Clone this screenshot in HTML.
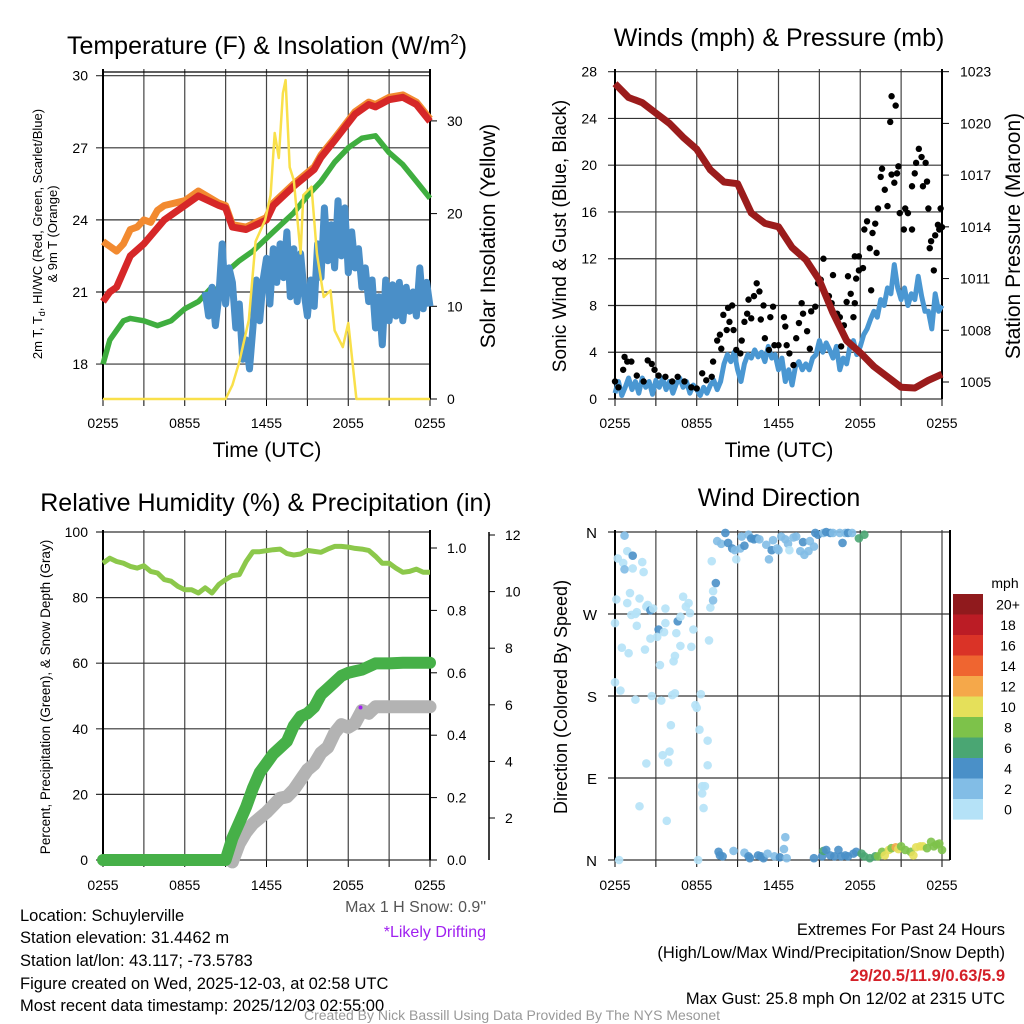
<!DOCTYPE html>
<html><head><meta charset="utf-8"><style>
html,body{margin:0;padding:0;background:#fff;}
svg{display:block;font-family:"Liberation Sans",sans-serif;}
</style></head><body>
<svg id="chart" width="1024" height="1024" viewBox="0 0 1024 1024" xmlns="http://www.w3.org/2000/svg">
<rect x="0" y="0" width="1024" height="1024" fill="#fff"/>
<g id="p1"></g>
<g id="p2"></g>
<g id="p3"></g>
<g id="p4"></g>

<text x="267" y="54" font-size="25" text-anchor="middle">Temperature (F) &amp; Insolation (W/m<tspan font-size="15" dy="-10">2</tspan><tspan dy="10">)</tspan></text>
<text x="779" y="46" font-size="25" text-anchor="middle">Winds (mph) &amp; Pressure (mb)</text>
<text x="266" y="511" font-size="25" text-anchor="middle">Relative Humidity (%) &amp; Precipitation (in)</text>
<text x="779" y="506" font-size="25" text-anchor="middle">Wind Direction</text>

<text transform="translate(42,234) rotate(-90)" font-size="13" text-anchor="middle">2m T, T<tspan font-size="9" dy="3">d</tspan><tspan dy="-3">, HI/WC (Red, Green, Scarlet/Blue)</tspan></text>
<text transform="translate(57,234) rotate(-90)" font-size="13" text-anchor="middle">&amp; 9m T (Orange)</text>
<text transform="translate(495,236) rotate(-90)" font-size="21" text-anchor="middle">Solar Insolation (Yellow)</text>
<text transform="translate(566,236) rotate(-90)" font-size="19" text-anchor="middle">Sonic Wind &amp; Gust (Blue, Black)</text>
<text transform="translate(1020,236) rotate(-90)" font-size="21" text-anchor="middle">Station Pressure (Maroon)</text>
<text transform="translate(50,697) rotate(-90)" font-size="13.5" text-anchor="middle">Percent, Precipitation (Green), &amp; Snow Depth (Gray)</text>
<text transform="translate(567,697) rotate(-90)" font-size="18" text-anchor="middle">Direction (Colored By Speed)</text>

<text x="267" y="457" font-size="21" text-anchor="middle">Time (UTC)</text>
<text x="779" y="457" font-size="21" text-anchor="middle">Time (UTC)</text>

<text x="1005" y="588" font-size="14" text-anchor="middle">mph</text>

<g font-size="16.5">
<text x="20" y="921">Location: Schuylerville</text>
<text x="20" y="943">Station elevation: 31.4462 m</text>
<text x="20" y="966">Station lat/lon: 43.117; -73.5783</text>
<text x="20" y="989">Figure created on Wed, 2025-12-03, at 02:58 UTC</text>
<text x="20" y="1011">Most recent data timestamp: 2025/12/03 02:55:00</text>
</g>
<text x="486" y="912" font-size="16" text-anchor="end" fill="#555">Max 1 H Snow: 0.9"</text>
<text x="486" y="937" font-size="16" text-anchor="end" fill="#a020f0">*Likely Drifting</text>
<g font-size="16.5" text-anchor="end">
<text x="1005" y="935">Extremes For Past 24 Hours</text>
<text x="1005" y="958">(High/Low/Max Wind/Precipitation/Snow Depth)</text>
<text x="1005" y="981" fill="#d42028" font-weight="bold">29/20.5/11.9/0.63/5.9</text>
<text x="1005" y="1004">Max Gust: 25.8 mph On 12/02 at 2315 UTC</text>
</g>
<text x="512" y="1020" font-size="14" text-anchor="middle" fill="#999">Created By Nick Bassill Using Data Provided By The NYS Mesonet</text>
</svg>
<script>
// ---------- DATA ----------
const tHalf = [0,0.5,1,1.5,2,2.5,3,3.5,4,4.5,5,5.5,6,6.5,7,7.5,8,8.5,9,9.5,10,10.5,11,11.5,12,12.5,13,13.5,14,14.5,15,15.5,16,16.5,17,17.5,18,18.5,19,19.5,20,20.5,21,21.5,22,22.5,23,23.5,24];
const tQuarter = [0,0.25,0.5,0.75,1,1.25,1.5,1.75,2,2.25,2.5,2.75,3,3.25,3.5,3.75,4,4.25,4.5,4.75,5,5.25,5.5,5.75,6,6.25,6.5,6.75,7,7.25,7.5,7.75,8,8.25,8.5,8.75,9,9.25,9.5,9.75,10,10.25,10.5,10.75,11,11.25,11.5,11.75,12,12.25,12.5,12.75,13,13.25,13.5,13.75,14,14.25,14.5,14.75,15,15.25,15.5,15.75,16,16.25,16.5,16.75,17,17.25,17.5,17.75,18,18.25,18.5,18.75,19,19.25,19.5,19.75,20,20.25,20.5,20.75,21,21.25,21.5,21.75,22,22.25,22.5,22.75,23,23.25,23.5,23.75,24];
const xTickLabels = ["0255","0855","1455","2055","0255"];
const xTickHours = [0,6,12,18,24];

// Panel 1
const tempT = [0,0.5,1,2,3,4.5,6,7,8.5,9,9.5,10.5,12,12.5,14,15.5,16,17,18.5,19.5,20,21,22,23,24];
const tempRed = [20.6,21,21.2,22.5,23,24,24.6,25,24.6,24.5,23.7,23.6,24,24.6,25.4,26.1,26.6,27.3,28.4,28.8,28.7,29,29.1,28.8,28.1];
const tempOrangeT = [0,0.5,1,1.5,2,2.5,3,3.5,4,4.5,6,7,8.5,9,9.5,10.5,12,12.5,14,15.5,16,17,18.5,19.5,20,21,22,23,24];
const tempOrange = [23.1,22.9,22.7,23.0,23.6,23.7,24,23.9,24.4,24.6,24.8,25.2,24.7,24.6,23.8,23.7,24.1,24.7,25.5,26.2,26.7,27.4,28.5,28.9,28.8,29.1,29.2,28.9,28.2];
const dewT = [0,0.5,1,1.5,2,3,4,5,6,7,8,8.5,9,10,11,12.5,14,15,16,17,18,19,20,21,22,23,24];
const dewGreen = [18,19,19.4,19.8,19.9,19.8,19.6,19.8,20.3,20.6,21.2,21.0,21.8,22.3,22.7,23.5,24.3,25,25.6,26.4,27,27.4,27.5,26.8,26.3,25.6,24.9];
const wcT = [7.5,7.75,8,8.25,8.5,8.75,9,9.25,9.5,9.75,10,10.25,10.5,10.75,11,11.25,11.5,11.75,12,12.25,12.5,12.75,13,13.25,13.5,13.75,14,14.25,14.5,14.75,15,15.25,15.5,15.75,16,16.25,16.5,16.75,17,17.25,17.5,17.75,18,18.25,18.5,18.75,19,19.25,19.5,19.75,20,20.25,20.5,20.75,21,21.25,21.5,21.75,22,22.25,22.5,22.75,23,23.25,23.5,23.75,24];
const wcBlue = [21.0,20.0,21.2,19.6,20.8,23.0,20.5,22.0,21.4,19.5,20.5,18.2,19.0,17.8,19.5,21.5,19.8,21.5,22.4,20.5,22.8,21.4,23.0,21.6,23.5,20.8,22.8,20.6,22.6,21.0,20.0,21.5,20.4,23.0,21.6,24.5,22.3,23.8,22.0,24.8,22.5,24.5,21.8,23.5,22.0,22.8,21.2,22.0,20.6,21.5,19.5,20.8,18.8,21.5,19.8,21.3,20.0,21.4,19.8,21.2,20.2,21.0,20.0,22.0,20.3,21.4,20.4];
const solarT = [0,9,9.5,10,10.7,11.2,11.9,12.3,12.6,12.9,13.2,13.4,13.7,14,14.5,14.7,15.3,15.7,16.2,16.7,17,17.6,18,18.6,24];
const solarVal = [0,0,1.5,4,8.5,17,19.3,22,28.7,26,33,34.4,25,23.6,15.7,22,22.9,15.7,11,11.7,7.4,5.6,8.2,0,0];

// Panel 2
const windBlue = [0.5,1.5,0.3,1.0,1.8,0.8,1.5,0.5,1.8,1.0,1.5,0.4,1.6,1.0,1.8,0.8,1.5,0.5,1.3,1.8,1.0,1.5,0.5,1.2,0.8,0.3,1.0,0.5,1.2,1.6,0.8,1.5,3.0,3.8,3.2,4.0,2.5,1.5,3.0,3.8,3.5,4.2,3.6,4.0,3.2,4.5,3.5,3.8,2.5,3.5,1.5,2.5,1.2,2.8,3.2,2.5,3.0,2.5,3.5,3.8,5.0,4.0,4.8,4.2,3.5,4.5,2.5,3.5,3.0,4.5,5.0,3.8,4.5,5.5,6.0,6.8,7.5,7.0,8.5,8.0,9.5,9.0,11.5,9.5,8.5,9.5,8.0,9.0,8.5,10.5,8.8,7.5,7.5,6.0,9.0,7.5,8.0];
const presT = [0,1,2,3,4,5,6,7,8,9,10,11,12,13,14,15,16,17,18,19,20,21,22,23,24];
const presVal = [1022.3,1021.5,1021.2,1020.6,1020.0,1019.2,1018.5,1017.3,1016.6,1016.5,1014.8,1014.2,1014.0,1012.8,1012.1,1010.9,1009.0,1007.4,1006.7,1005.9,1005.3,1004.7,1004.65,1005.1,1005.45];
const gustT = [0,0.25,0.7,0.9,1.2,0.6,1.6,2.1,2.4,2.7,2.9,3.2,3.7,4.2,4.6,5.1,5.6,6.0,6.4,6.7,7.1,7.2,7.5,7.7,7.8,7.95,8.2,8.3,8.6,8.4,8.7,8.9,9.2,9.3,9.5,9.7,9.8,10.0,10.2,10.4,10.6,10.7,10.9,11.0,11.3,11.4,11.6,11.7,12.0,12.4,12.5,12.6,12.8,13.1,13.3,13.5,13.7,13.8,14.1,14.3,14.4,14.7,14.9,15.1,15.3,15.5,15.7,15.9,16.0,16.3,16.5,16.6,16.8,17.0,17.1,17.3,17.5,17.6,17.7,17.9,17.6,17.9,18.2,18.3,18.5,18.7,18.8,18.9,19.1,19.2,19.3,19.5,19.6,19.8,20.0,20.2,20.3,20.6,20.3,20.5,20.7,20.8,20.9,21.2,21.3,21.5,21.8,21.8,22.0,22.1,22.3,22.5,22.6,22.8,22.9,23.0,23.1,23.2,23.4,23.5,23.7,23.8,23.9,24.0];
const gustVal = [1.5,1.0,3.6,3.2,3.2,2.5,2.0,1.5,3.3,3.0,2.5,2.0,1.9,1.5,1.9,1.5,1.0,0.9,2.2,1.6,1.9,3.2,5.0,5.5,4.3,7.2,5.9,7.8,8.0,6.6,5.9,4.2,3.9,5.0,6.6,7.3,8.5,6.9,8.8,9.9,9.2,6.8,8.0,5.2,4.2,7.0,7.9,4.6,4.6,7.0,6.2,4.6,3.9,2.9,5.2,6.5,8.2,7.3,5.8,4.3,7.5,7.9,9.9,10.2,12.0,8.9,8.8,8.2,10.6,7.3,7.0,4.5,6.3,8.3,10.5,9.0,7.0,8.2,10.3,11.0,12.2,12.2,11.2,14.5,15.2,12.9,9.3,14.2,15.0,12.5,16.3,19.0,19.7,17.9,16.5,23.7,25.9,25.1,19.2,18.5,19.3,19.9,15.9,14.5,16.3,15.9,14.5,18.2,19.3,20.2,21.4,20.7,18.2,20.2,18.6,16.3,12.9,13.5,11.0,14.0,14.9,14.5,16.3,14.7];

// Panel 3
const rhVal = [90.5,92,91,90.5,89.5,89,89.7,88,87.5,85.5,85,83.4,82.4,82.4,81.4,83,81.4,84,85.5,86.7,87,91,94,94,94.3,94.6,94.8,93.4,93,93.3,94.4,94.1,93.8,94.8,95.6,95.6,95.4,95,94.8,94.4,92.6,90.5,90.5,89,87.7,88,88.7,87.7,87.7];
const precipT = [0,9,9.5,10,10.5,11,11.5,12,12.5,13,13.5,14,14.5,15,15.5,16,16.5,17,17.5,18,18.5,19,19.5,20,21,22,23,24];
const precipVal = [0,0,0.07,0.12,0.17,0.23,0.28,0.31,0.34,0.36,0.38,0.43,0.46,0.47,0.49,0.53,0.55,0.57,0.59,0.60,0.605,0.61,0.62,0.63,0.63,0.632,0.632,0.632];
const snowT = [9.5,10,10.5,11,11.5,12,12.5,13,13.5,14,14.5,15,15.5,16,16.5,17,17.5,18,18.5,19,19.5,20,21,22,23,24];
const snowVal = [0.45,1.1,1.5,1.8,2.0,2.2,2.45,2.7,2.75,3.0,3.35,3.7,3.9,4.3,4.5,5.0,5.3,5.2,5.35,5.8,5.7,5.93,5.93,5.93,5.93,5.93];
const driftT = [18.9];
const driftPct = [46.5];

// Panel 4
const dirT = [0.7,0.9,0.2,0.6,1.3,0.7,1.3,2.0,2.1,0.1,0.9,1.1,1.8,1.6,1.2,1.5,2.3,2.4,2.6,2.8,3.7,0,1.6,3.2,3.7,3.6,3.1,2.6,4.6,4.5,4.8,5.0,5.2,5.4,5.5,4.8,5.75,5.6,0.5,1.0,2.2,3.3,4.3,4.4,0,0.4,1.5,2.7,3.4,4.2,4.4,5.9,6.0,6.3,6.2,6.8,4.1,3.5,4.0,3.9,2.3,6.8,6.4,6.6,6.4,6.5,1.8,3.8,0.3,6.1,7.0,6.9,7.2,7.2,7.4,7.1,
7.5,7.8,8.1,8.3,8.6,8.8,8.9,9.2,9.3,9.5,9.8,10.0,10.2,10.4,10.6,11.1,11.3,11.5,11.6,11.9,12.0,12.2,12.5,12.7,12.8,13.1,13.3,13.6,13.8,13.9,14.2,14.3,14.6,14.7,14.9,15.3,15.5,15.8,16.0,16.5,16.7,16.9,17.1,17.4,17.9,18.3,
7.6,7.7,7.9,8.7,9.5,9.8,9.9,10.5,10.7,10.9,11.2,11.7,12.1,12.4,12.5,12.6,14.6,15.2,15.3,15.5,15.8,16.1,16.4,16.6,16.9,17.1,17.5,17.7,18.1,18.3,18.7,19.1,19.3,19.6,19.8,20.1,20.3,20.6,20.8,21.0,21.3,21.7,21.9,22.1,22.4,22.6,22.9,23.2,23.4,23.6,23.8,24];
const dirDeg = [356,339,331,326,334,319,320,327,316,286,282,293,287,272,269,270,278,280,274,276,276,260,257,253,260,250,245,243,262,249,235,289,278,282,271,267,253,234,233,227,231,214,218,224,195,186,176,180,175,181,183,170,167,182,143,131,148,115,119,107,106,104,81,81,73,57,59,43,0,0,277,241,285,295,304,328,
350,347,359,348,342,340,330,342,355,345,357,353,352,353,352,346,330,340,351,342,340,355,352,347,340,354,355,339,349,335,339,350,344,359,357,359,360,359,359,359,348,359,359,359,353,357,
9,5,4,10,8,4,2,5,4,2,7,4,3,12,25,2,2,4,10,11,5,4,11,4,5,4,7,9,7,4,2,4,4,9,5,11,13,14,12,15,11,9,5,14,15,15,13,20,15,17,18,11];
const dirSpeed = [2.5,0.5,0.5,0.5,4.5,2.5,0.5,0.5,0.5,0.5,0.5,0.5,0.5,0.5,0.5,0.5,0.5,0.5,4.5,0.5,0.5,0.5,0.5,4.5,0.5,0.5,0.5,0.5,4.5,0.5,0.5,0.5,0.5,0.5,0.5,0.5,0.5,0.5,0.5,0.5,0.5,0.5,0.5,0.5,0.5,0.5,0.5,0.5,0.5,0.5,0.5,0.5,0.5,0.5,0.5,0.5,0.5,0.5,0.5,0.5,0.5,0.5,0.5,0.5,0.5,0.5,0.5,0.5,0.5,0.5,0.5,0.5,2.5,0.5,4.5,0.5,
2.5,2.5,4.5,4.5,4.5,2.5,0.5,2.5,2.5,4.5,2.5,4.5,4.5,4.5,2.5,2.5,2.5,4.5,2.5,2.5,2.5,2.5,2.5,2.5,0.5,2.5,2.5,2.5,4.5,2.5,2.5,2.5,2.5,4.5,4.5,2.5,4.5,4.5,2.5,2.5,4.5,2.5,4.5,2.5,7,7,
4.5,4.5,4.5,2.5,2.5,4.5,4.5,4.5,4.5,4.5,2.5,2.5,4.5,2.5,2.5,2.5,4.5,4.5,7,4.5,4.5,4.5,4.5,4.5,4.5,4.5,4.5,4.5,7,7,7,7,9,9,11,11,9,13,11,9,9,9,11,11,11,11,9,9,9,9,9,9];
const cbLabels = ["20+","18","16","14","12","10","8","6","4","2","0"];
const cbColors = ["#901a1d","#bb1c25","#da3327","#ef6530","#f5a84a","#e5e05a","#7dc24a","#4aa673","#4a90c8","#82bde6","#b5e2f7"];
const dirLabels = ["N","W","S","E","N"];
const dirTicks = [360,270,180,90,0];

// ---------- HELPERS ----------
const NS = "http://www.w3.org/2000/svg";
function mk(tag, attrs, parent){ const e=document.createElementNS(NS,tag); for(const k in attrs) e.setAttribute(k,attrs[k]); parent.appendChild(e); return e; }
function pts(ts, vs, fx, fy){ return ts.map((t,i)=>fx(t).toFixed(1)+","+fy(vs[i]).toFixed(1)).join(" "); }
function line(g, x1,y1,x2,y2, stroke, w){ return mk("line",{x1,y1,x2,y2,stroke,"stroke-width":w},g); }
function txt(g, x,y,s,size,anchor){ const t=mk("text",{x,y,"font-size":size,"text-anchor":anchor||"middle"},g); t.textContent=s; return t; }

const L=103, R=430, L2=615, R2=942;
const XA = h => L + h*(R-L)/24;
const XB = h => L2 + h*(R2-L2)/24;

function frame(g, fx, top, bottom, hGrid, fy, left, right, labelY){
  for(let h=0; h<=24; h+=3){
    const v=line(g, fx(h), top, fx(h), bottom, "#444", 1.2);
    
    
    const tk=line(g, fx(h), bottom, fx(h), bottom+7, "#000", 1);
    
    
  }
  hGrid.forEach(v=>{
    const l=line(g, left-7, fy(v), right, fy(v), "#333", 1.2);
    
    
  });
  const ls=line(g, left, top, left, bottom, "#000", 2);
  
  
  const rs=line(g, right, top, right, bottom, "#000", 2);
  
  
  xTickHours.forEach((h,i)=>{
    const t=txt(g, fx(h), labelY, xTickLabels[i], 14);
    
    
  });
}

// ---------- PANEL 1 ----------
(function(){
  const g=document.getElementById('p1');
  const YT = v => 75.7 + (30-v)*24.03;
  const YS = v => 399 - v*9.27;
  frame(g, XA, 69, 399, [30,27,24,21,18], YT, L, R, 428);
  const topL=line(g, L, 72, R, 72, "#000", 1.2);
  
  
  [30,27,24,21,18].forEach(v=>{
    const t=txt(g, 88, YT(v)+5, String(v), 14, "end");
    
    
  });
  [0,10,20,30].forEach(v=>{
    const tk=line(g, R, YS(v), R+7, YS(v), "#000", 1);
    
    
    const t=txt(g, 447, YS(v)+5, String(v), 14, "start");
    
    
  });
  const bl=line(g, L, 399, R, 399, "#444", 1);
  
  
  const o=mk("polyline",{points:pts(tempOrangeT,tempOrange,XA,YT),fill:"none",stroke:"#f28a30","stroke-width":7,"stroke-linejoin":"round"},g);
  
  
  const r=mk("polyline",{points:pts(tempT,tempRed,XA,YT),fill:"none",stroke:"#d62728","stroke-width":7,"stroke-linejoin":"round"},g);
  
  
  const gr=mk("polyline",{points:pts(dewT,dewGreen,XA,YT),fill:"none",stroke:"#3fae3f","stroke-width":5.5,"stroke-linejoin":"round"},g);
  
  
  const b=mk("polyline",{points:pts(wcT,wcBlue,XA,YT),fill:"none",stroke:"#4a8fc8","stroke-width":7,"stroke-linejoin":"round"},g);
  
  
  const y=mk("polyline",{points:pts(solarT,solarVal,XA,YS),fill:"none",stroke:"#f9e04a","stroke-width":2.5,"stroke-linejoin":"round"},g);
  
  
})();

// ---------- PANEL 2 ----------
(function(){
  const g=document.getElementById('p2');
  const YW = v => 399 - v*11.69;
  const YP = p => 382 - (p-1005)*17.24;
  const wt=[0,4,8,12,16,20,24,28];
  frame(g, XB, 69, 399, wt, YW, L2, R2, 428);
  wt.forEach(v=>{
    const t=txt(g, 597, YW(v)+5, String(v), 14, "end");
    
    
  });
  [1005,1008,1011,1014,1017,1020,1023].forEach(v=>{
    const tk=line(g, R2, YP(v), R2+7, YP(v), "#000", 1);
    
    
    const t=txt(g, 960, YP(v)+5, String(v), 14, "start");
    
    
  });
  const b=mk("polyline",{points:pts(tQuarter,windBlue,XB,YW),fill:"none",stroke:"#4a97d2","stroke-width":5,"stroke-linejoin":"round"},g);
  
  
  gustT.forEach((t,i)=>{
    const c=mk("circle",{cx:XB(t),cy:YW(gustVal[i]),r:3.2,fill:"#000"},g);
    
    
  });
  const p=mk("polyline",{points:pts(presT,presVal,XB,YP),fill:"none",stroke:"#9b1c1c","stroke-width":7,"stroke-linejoin":"round"},g);
  
  
})();

// ---------- PANEL 3 ----------
(function(){
  const g=document.getElementById('p3');
  const YR = v => 860 - v*3.28;
  const YPr = v => 860 - v*312;
  const YSn = s => 874.6 - s*28.3;
  const rt=[0,20,40,60,80,100];
  frame(g, XA, 530, 860, rt, YR, L, R, 890);
  rt.forEach(v=>{
    const t=txt(g, 88, YR(v)+5, String(v), 14, "end");
    
    
  });
  [0,0.2,0.4,0.6,0.8,1.0].forEach(v=>{
    const tk=line(g, R, YPr(v), R+7, YPr(v), "#000", 1);
    
    
    const t=txt(g, 447, YPr(v)+5, v.toFixed(1), 14, "start");
    
    
  });
  const sa=line(g, 489, 532, 489, 860, "#000", 1.5);
  
  
  [2,4,6,8,10,12].forEach(v=>{
    const tk=line(g, 489, YSn(v), 495, YSn(v), "#000", 1);
    
    
    const t=txt(g, 505, YSn(v)+5, String(v), 14, "start");
    
    
  });
  const rh=mk("polyline",{points:pts(tHalf,rhVal,XA,YR),fill:"none",stroke:"#8cc84b","stroke-width":5,"stroke-linejoin":"round"},g);
  
  
  const sn=mk("polyline",{points:pts(snowT,snowVal,XA,YSn),fill:"none",stroke:"#b3b3b3","stroke-width":13,"stroke-linejoin":"round","stroke-linecap":"round"},g);
  
  
  const pr=mk("polyline",{points:pts(precipT,precipVal,XA,YPr),fill:"none",stroke:"#46b048","stroke-width":12,"stroke-linejoin":"round","stroke-linecap":"round"},g);
  
  
  driftT.forEach((t,i)=>{
    const c=mk("circle",{cx:XA(t),cy:YR(driftPct[i]),r:2,fill:"#a020f0"},g);
    
    
  });
})();

// ---------- PANEL 4 ----------
(function(){
  const g=document.getElementById('p4');
  const YD = d => 860 - d*328/360;
  frame(g, XB, 530, 860, dirTicks, YD, L2, R2+8, 890);
  dirTicks.forEach((d,i)=>{
    const t=txt(g, 597, YD(d)+6, dirLabels[i], 15, "end");
    
    
  });
  function col(s){ let b=Math.floor(s/2); if(b>10) b=10; return cbColors[10-b]; }
  dirT.forEach((t,i)=>{
    const c=mk("circle",{cx:XB(t),cy:YD(dirDeg[i]),r:4.3,fill:col(dirSpeed[i]),"fill-opacity":0.9},g);
    
    
  });
  cbColors.forEach((c,i)=>{
    const r=mk("rect",{x:953,y:594+i*20.5,width:30,height:20.6,fill:c},g);
    
    
    const t=txt(g, 1008, 594+i*20.5+15.5, cbLabels[i], 14);
    
    
  });
})();
</script>
</body></html>
